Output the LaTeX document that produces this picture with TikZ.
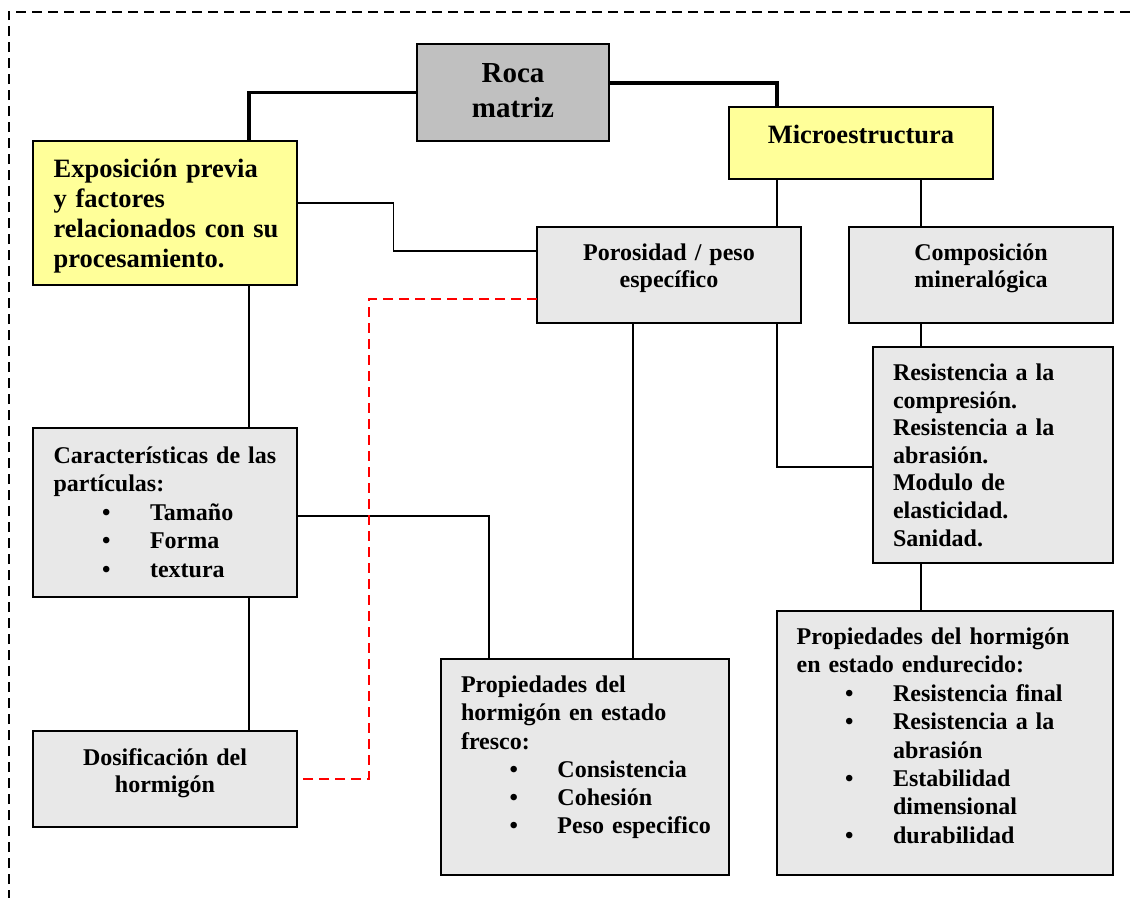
\documentclass[tikz,border=0pt]{standalone}
\usepackage{fontspec}
\setmainfont{Liberation Serif}
\definecolor{paleyellow}{HTML}{FFFF99}
\definecolor{rockgray}{HTML}{C0C0C0}
\definecolor{boxgray}{HTML}{E8E8E8}
\newcommand{\itembul}{\hspace*{48.5pt}\makebox[48pt][l]{•}}
\newcommand{\itemcont}{\hspace*{96.5pt}}
\begin{document}
\begin{tikzpicture}[x=1pt,y=-1pt,
  box/.style={draw=black, line width=1.8pt, anchor=north west, inner sep=0pt, outer sep=0pt},
  graybox/.style={box, fill=boxgray},
  yellowbox/.style={box, fill=paleyellow},
  rockbox/.style={box, fill=rockgray, line width=2.4pt},
  txt/.style={inner sep=0pt, outer sep=0pt},
  lefttxt/.style={txt, anchor=base west, align=left},
  midtxt/.style={txt, anchor=base, align=center},
  link/.style={draw=black, line width=1.5pt},
  boldlink/.style={draw=black, line width=3.4pt},
  redlink/.style={draw=red, line width=2pt, dash pattern=on 10pt off 6pt},
  frame/.style={draw=black, line width=2pt, dash pattern=on 10pt off 6pt}
]
\useasboundingbox (0,0) rectangle (1131,897);

% dashed frame
\draw[frame] (8.5,900) -- (8.5,11.5) -- (1135,11.5);

% boxes
\node[rockbox, minimum width=192pt, minimum height=97pt] (roca) at (417,44) {};
\node[yellowbox, minimum width=264pt, minimum height=144pt] (expo) at (33,141) {};
\node[yellowbox, minimum width=264pt, minimum height=72pt] (micro) at (729,107) {};
\node[graybox, minimum width=264pt, minimum height=96pt] (poros) at (537,227) {};
\node[graybox, minimum width=264pt, minimum height=96pt] (compo) at (849,227) {};
\node[graybox, minimum width=240pt, minimum height=216pt] (resist) at (873,347) {};
\node[graybox, minimum width=264pt, minimum height=169pt] (caract) at (33,428) {};
\node[graybox, minimum width=264pt, minimum height=96pt] (dosif) at (33,731) {};
\node[graybox, minimum width=288pt, minimum height=216pt] (fresco) at (441,659) {};
\node[graybox, minimum width=336pt, minimum height=264pt] (endur) at (777,611) {};

% texts
\node[midtxt, text width=190pt, font=\fontsize{29}{35}\selectfont\bfseries] (roca-t) at (513,82) {Roca\\matriz};
\node[lefttxt, text width=250pt, font=\fontsize{26.5}{30.3}\selectfont\bfseries] (expo-t) at (53.6,177)
  {Exposición previa\\y factores\\relacionados con su\\procesamiento.};
\node[midtxt, text width=260pt, font=\fontsize{26.5}{30.3}\selectfont\bfseries] (micro-t) at (861,143) {Microestructura};
\node[midtxt, text width=260pt, font=\fontsize{24}{27}\selectfont\bfseries] (poros-t) at (669,260) {Porosidad / peso\\específico};
\node[midtxt, text width=260pt, font=\fontsize{24}{27}\selectfont\bfseries] (compo-t) at (981,260) {Composición\\mineralógica};
\node[lefttxt, text width=225pt, font=\fontsize{24}{27.6}\selectfont\bfseries] (resist-t) at (893,380.5)
  {Resistencia a la\\compresión.\\Resistencia a la\\abrasión.\\Modulo de\\elasticidad.\\Sanidad.};
\node[lefttxt, text width=250pt, font=\fontsize{24}{28.5}\selectfont\bfseries] (caract-t) at (53.6,463)
  {Características de las\\partículas:\\\itembul Tamaño\\\itembul Forma\\\itembul textura};
\node[midtxt, text width=260pt, font=\fontsize{24}{27}\selectfont\bfseries] (dosif-t) at (165,765) {Dosificación del\\hormigón};
\node[lefttxt, text width=270pt, font=\fontsize{24}{28.2}\selectfont\bfseries] (fresco-t) at (461,692.6)
  {Propiedades del\\hormigón en estado\\fresco:\\\itembul Consistencia\\\itembul Cohesión\\\itembul Peso especifico};
\node[lefttxt, text width=320pt, font=\fontsize{24}{28.4}\selectfont\bfseries] (endur-t) at (796.6,644.5)
  {Propiedades del hormigón\\en estado endurecido:\\\itembul Resistencia final\\\itembul Resistencia a la\\\itemcont abrasión\\\itembul Estabilidad\\\itemcont dimensional\\\itembul durabilidad};

% junction columns
\coordinate (jexpo) at (393.5,0);
\coordinate (jred) at (369,0);

% heavy links from the parent rock
\draw[boldlink] (roca.west) -| ([xshift=216pt]expo.north west);
\draw[boldlink] ([yshift=9.5pt]roca.east) -| ([xshift=48pt]micro.north west);

% thin links
\coordinate (e1) at ([yshift=10pt]expo.east);
\coordinate (p1) at ([yshift=24pt]poros.west);
\draw[link] (e1) -- (e1 -| jexpo) |- (p1);

\coordinate (m1) at ([xshift=48pt]micro.south west);
\draw[link] (m1) -- (m1 |- poros.north);
\coordinate (m2) at ([xshift=192pt]micro.south west);
\draw[link] (m2) -- (m2 |- compo.north);

\coordinate (p2) at ([xshift=96pt]poros.south west);
\draw[link] (p2) -- (p2 |- fresco.north);
\coordinate (p3) at ([xshift=240pt]poros.south west);
\draw[link] (p3) |- ([yshift=-12pt]resist.west);

\coordinate (c1) at ([xshift=72pt]compo.south west);
\draw[link] (c1) -- (c1 |- resist.north);
\coordinate (r1) at ([xshift=48pt]resist.south west);
\draw[link] (r1) -- (r1 |- endur.north);

\coordinate (e2) at ([xshift=216pt]expo.south west);
\draw[link] (e2) -- (e2 |- caract.north);
\draw[link] ([yshift=-3.5pt]caract.east) -| ([xshift=48pt]fresco.north west);
\coordinate (k1) at ([xshift=216pt]caract.south west);
\draw[link] (k1) -- (k1 |- dosif.north);

% red dashed link
\coordinate (p4) at ([yshift=-24pt]poros.west);
\draw[redlink] (p4) -- (p4 -| jred) |- (dosif.east);

\end{tikzpicture}
\end{document}
